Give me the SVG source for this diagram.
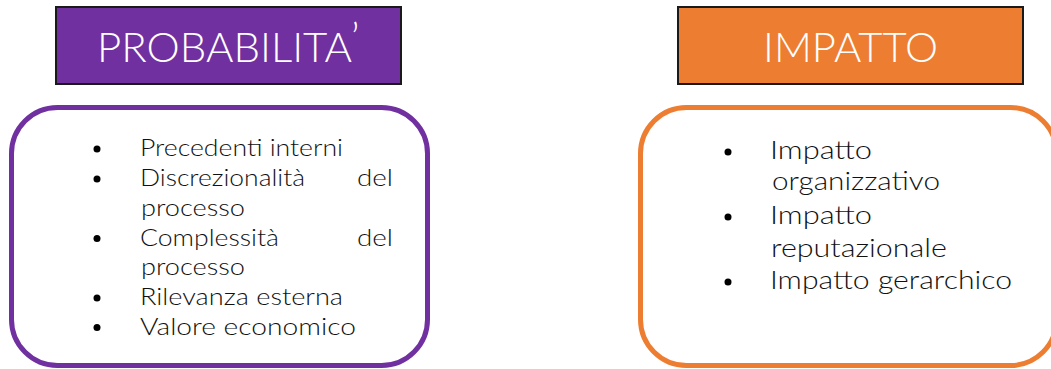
<svg xmlns="http://www.w3.org/2000/svg" width="1051" height="369" viewBox="0 0 1051 369">
<style>
.hdr{stroke:#1a1a1a;stroke-width:2}
.htxt{font-family:Lato,"Liberation Sans",sans-serif;font-weight:300;font-size:41px;fill:#ffffff}
.box{fill:#ffffff;stroke-width:5}
.t1{font-family:Lato,"Liberation Sans",sans-serif;font-weight:300;font-size:23px;fill:#111111}
.t2{font-family:Lato,"Liberation Sans",sans-serif;font-weight:300;font-size:25px;fill:#111111}
.dot{fill:#000000}
</style>
<rect width="1051" height="369" fill="#ffffff"/>
<g id="probabilita-header">
<rect class="hdr" x="56" y="7" width="345" height="77" fill="#7030A0"/>
<text class="htxt" x="97" y="62" textLength="255" lengthAdjust="spacingAndGlyphs">PROBABILITA</text><text class="htxt" x="351" y="53" font-size="13" font-weight="400">’</text>
</g>
<g id="impatto-header">
<rect class="hdr" x="678" y="7" width="345" height="77" fill="#ED7D31"/>
<text class="htxt" x="763" y="62" textLength="175" lengthAdjust="spacingAndGlyphs">IMPATTO</text>
</g>
<g id="probabilita-list">
<rect class="box" x="11.5" y="107.5" width="416" height="258" rx="46" stroke="#7030A0"/>
<circle class="dot" cx="97" cy="149" r="3.5"/>
<circle class="dot" cx="97" cy="179" r="3.5"/>
<circle class="dot" cx="97" cy="238.5" r="3.5"/>
<circle class="dot" cx="97" cy="298" r="3.5"/>
<circle class="dot" cx="97" cy="327.5" r="3.5"/>
<text class="t1" x="140" y="156" textLength="203" lengthAdjust="spacingAndGlyphs">Precedenti interni</text>
<text class="t1" x="140" y="186" textLength="165" lengthAdjust="spacingAndGlyphs">Discrezionalità</text>
<text class="t1" x="357" y="186" textLength="36" lengthAdjust="spacingAndGlyphs">del</text>
<text class="t1" x="141" y="215.5" textLength="104" lengthAdjust="spacingAndGlyphs">processo</text>
<text class="t1" x="140" y="245.5" textLength="139" lengthAdjust="spacingAndGlyphs">Complessità</text>
<text class="t1" x="357" y="245.5" textLength="36" lengthAdjust="spacingAndGlyphs">del</text>
<text class="t1" x="141" y="275" textLength="104" lengthAdjust="spacingAndGlyphs">processo</text>
<text class="t1" x="140" y="305" textLength="203" lengthAdjust="spacingAndGlyphs">Rilevanza esterna</text>
<text class="t1" x="140" y="334.5" textLength="216" lengthAdjust="spacingAndGlyphs">Valore economico</text>
</g>
<g id="impatto-list">
<rect class="box" x="640.5" y="107.5" width="416" height="258" rx="46" stroke="#ED7D31"/>
<circle class="dot" cx="728" cy="152" r="3.5"/>
<circle class="dot" cx="728" cy="217" r="3.5"/>
<circle class="dot" cx="728" cy="282" r="3.5"/>
<text class="t2" x="770" y="158.5" textLength="102" lengthAdjust="spacingAndGlyphs">Impatto</text>
<text class="t2" x="772" y="189.5" textLength="168" lengthAdjust="spacingAndGlyphs">organizzativo</text>
<text class="t2" x="770" y="223.5" textLength="102" lengthAdjust="spacingAndGlyphs">Impatto</text>
<text class="t2" x="771" y="256.5" textLength="176" lengthAdjust="spacingAndGlyphs">reputazionale</text>
<text class="t2" x="770" y="288.5" textLength="242" lengthAdjust="spacingAndGlyphs">Impatto gerarchico</text>
</g>
</svg>
